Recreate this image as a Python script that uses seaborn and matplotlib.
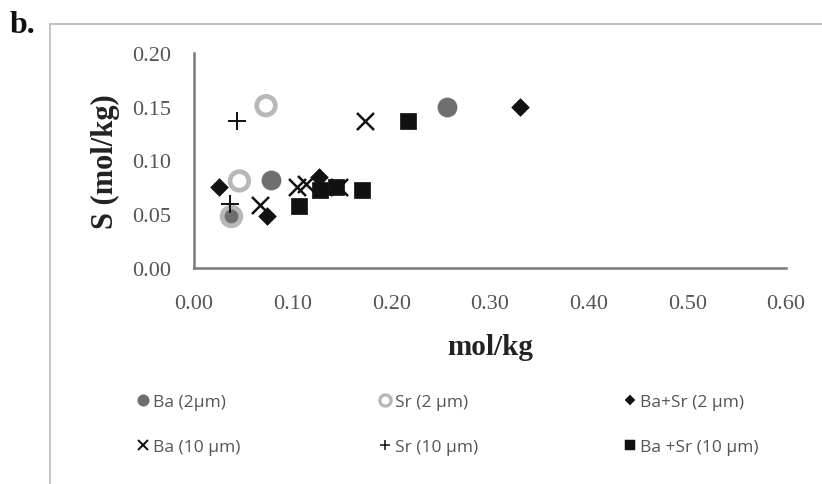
import matplotlib
matplotlib.use("Agg")
import matplotlib.pyplot as plt
from matplotlib.lines import Line2D
import seaborn as sns
import pandas as pd

# ---- data ----
series_names = ["Ba (2µm)", "Sr (2 µm)", "Ba+Sr (2 µm)",
                "Ba (10 µm)", "Sr (10 µm)", "Ba +Sr (10 µm)"]

ba2_x = [0.036, 0.078, 0.256]
ba2_y = [0.047, 0.082, 0.150]

sr2_x = [0.038, 0.046, 0.073]
sr2_y = [0.048, 0.081, 0.151]

basr2_x = [0.025, 0.074, 0.127, 0.330]
basr2_y = [0.075, 0.048, 0.085, 0.150]

ba10_x = [0.067, 0.104, 0.114, 0.147, 0.173]
ba10_y = [0.059, 0.075, 0.078, 0.075, 0.137]

sr10_x = [0.036, 0.044]
sr10_y = [0.060, 0.137]

basr10_x = [0.106, 0.128, 0.144, 0.170, 0.217]
basr10_y = [0.058, 0.073, 0.075, 0.073, 0.137]

x_ticks = [0.0, 0.1, 0.2, 0.3, 0.4, 0.5, 0.6]
y_ticks = [0.0, 0.05, 0.10, 0.15, 0.20]

# ---- styles ----
styles = {
    "Ba (2µm)":       dict(marker="o", s=190, color="#6e6e6e", edgecolor="#6e6e6e", linewidth=0.5),
    "Sr (2 µm)":      dict(marker="o", s=180, color="none", edgecolor="#b8b8b8", linewidth=3.4),
    "Ba+Sr (2 µm)":   dict(marker="D", s=80, color="#111111", edgecolor="#111111", linewidth=0.5),
    "Ba (10 µm)":     dict(marker="x", s=150, color="#111111", linewidth=1.8),
    "Sr (10 µm)":     dict(marker="+", s=150, color="#111111", linewidth=1.4),
    "Ba +Sr (10 µm)": dict(marker="s", s=130, color="#111111", edgecolor="#111111", linewidth=0.5),
}
data = {
    "Ba (2µm)": (ba2_x, ba2_y),
    "Sr (2 µm)": (sr2_x, sr2_y),
    "Ba+Sr (2 µm)": (basr2_x, basr2_y),
    "Ba (10 µm)": (ba10_x, ba10_y),
    "Sr (10 µm)": (sr10_x, sr10_y),
    "Ba +Sr (10 µm)": (basr10_x, basr10_y),
}
draw_order = ["Ba (2µm)", "Sr (2 µm)", "Ba (10 µm)", "Sr (10 µm)", "Ba+Sr (2 µm)", "Ba +Sr (10 µm)"]

sns.set_theme(style="white")
plt.rcParams["font.family"] = ["Liberation Serif", "DejaVu Serif"]

W, H = 822, 485
fig = plt.figure(figsize=(W / 100, H / 100), dpi=100)
fig.patch.set_facecolor("white")

L, R, T, B = 194, 786, 54, 269
ax = fig.add_axes([L / W, 1 - B / H, (R - L) / W, (B - T) / H])

for name in draw_order:
    xs, ys = data[name]
    df = pd.DataFrame({"x": xs, "y": ys})
    st = dict(styles[name])
    sns.scatterplot(data=df, x="x", y="y", ax=ax, legend=False, zorder=3, clip_on=False, **st)

ax.set_xlim(0, 0.6)
ax.set_ylim(0, 0.2)
ax.set_xticks(x_ticks)
ax.set_yticks(y_ticks)
ax.set_xticklabels([f"{v:.2f}" for v in x_ticks])
ax.set_yticklabels([f"{v:.2f}" for v in y_ticks])
ax.set_xlabel("mol/kg", fontsize=21, fontweight="bold", color="#222222", labelpad=14)
ax.set_ylabel("S (mol/kg)", fontsize=22, fontweight="bold", color="#222222", labelpad=9)

for sp in ["top", "right"]:
    ax.spines[sp].set_visible(False)
for sp in ["left", "bottom"]:
    ax.spines[sp].set_color("#7a7a7a")
    ax.spines[sp].set_linewidth(1.8)
ax.tick_params(axis="both", which="major", labelsize=16, labelcolor="#555555",
               color="#7a7a7a", width=1.5)
ax.tick_params(axis="y", direction="out", length=5.5, pad=11)
ax.tick_params(axis="x", direction="inout", length=8, pad=15)
ax.grid(False)
ax.set_facecolor("white")

# outer frame (top and left edges visible)
fig.add_artist(Line2D([50 / W, 50 / W, 1.0], [0.0, 1 - 25 / H, 1 - 25 / H],
                      transform=fig.transFigure, color="#c4c4c4", linewidth=1.5))

# panel letter
fig.text(10 / W, 1 - 33 / H, "b.", fontsize=23, fontweight="bold", color="#111111",
         family=["Liberation Serif"])

# legend: three columns of two entries
def handle(name, scale=0.6):
    st = styles[name]
    mk = st["marker"]
    ms = (st["s"] ** 0.5) * scale
    if mk in ("x", "+"):
        return Line2D([], [], linestyle="none", marker=mk, markersize=ms,
                      color=st["color"], markeredgewidth=st["linewidth"] * 0.8)
    return Line2D([], [], linestyle="none", marker=mk, markersize=ms,
                  markerfacecolor=st["color"], markeredgecolor=st.get("edgecolor", st["color"]),
                  markeredgewidth=st["linewidth"] * 0.7)

cols = [(series_names[0], series_names[3]), (series_names[1], series_names[4]),
        (series_names[2], series_names[5])]
col_x = [138, 380, 625]
for (n1, n2), cx in zip(cols, col_x):
    leg = fig.legend(handles=[handle(n1), handle(n2)], labels=[n1, n2],
                     loc="upper left", bbox_to_anchor=(cx / W, 1 - 395 / H),
                     frameon=False, handlelength=0.6, handletextpad=0.28,
                     labelspacing=1.65, borderaxespad=0, borderpad=0,
                     prop={"family": ["Open Sans", "DejaVu Sans"], "size": 12.5})
    for t in leg.get_texts():
        t.set_color("#555555")

fig.savefig("out.png", dpi=100, facecolor="white")
